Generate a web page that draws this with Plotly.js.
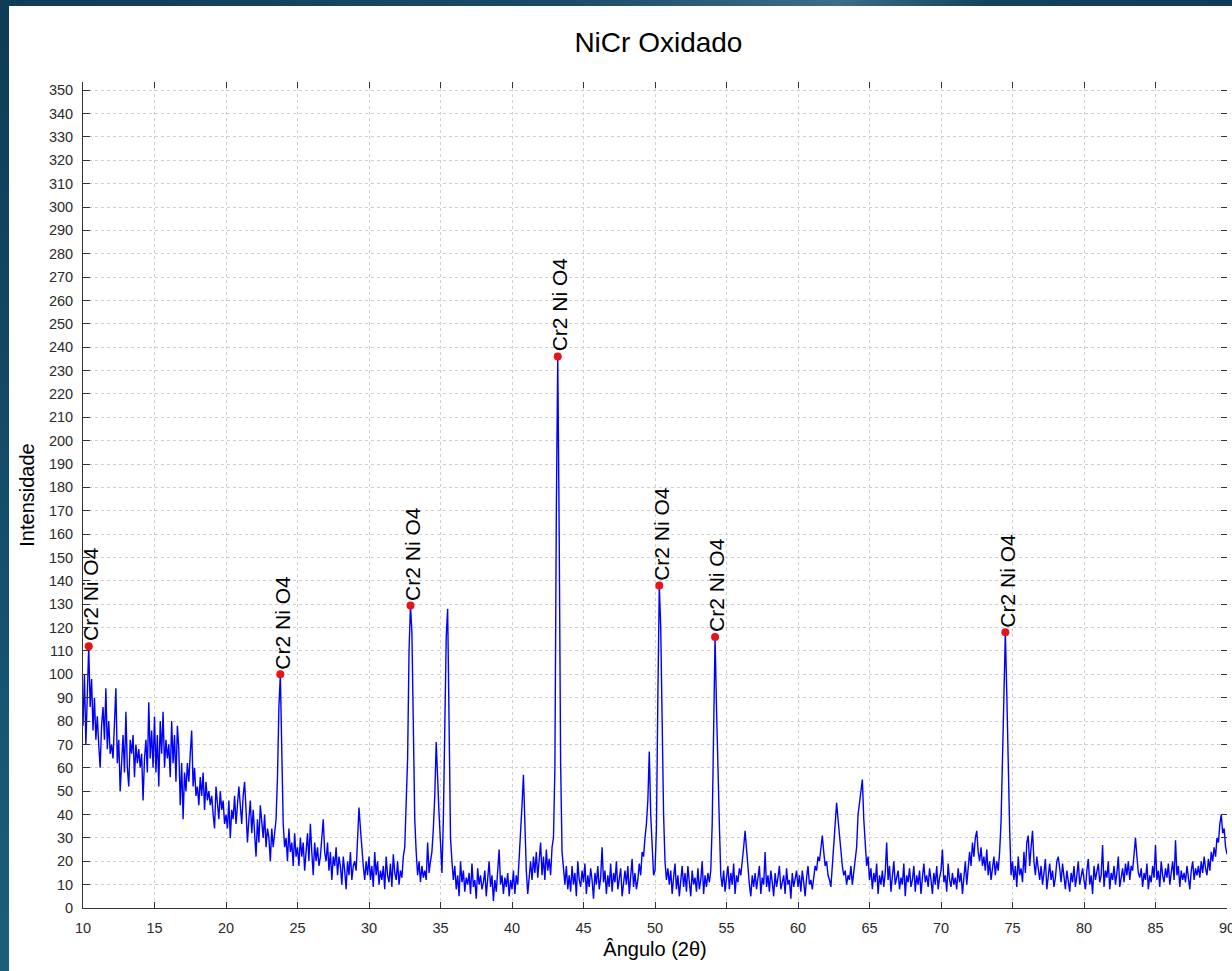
<!DOCTYPE html>
<html>
<head>
<meta charset="utf-8">
<script src="https://cdn.plot.ly/plotly-3.0.1.min.js"></script>
<style>
  html, body { margin: 0; padding: 0; width: 1232px; height: 971px; overflow: hidden; }
  body { background: linear-gradient(to bottom, #0e3b55 0%, #15506e 60%, #1c5d7d 100%); position: relative; }
  #topband { position: absolute; left: 0; top: 0; width: 1232px; height: 6px;
    background: linear-gradient(to right, #0f3c56 0%, #1a4b66 45%, #3d6d88 68%, #14435d 80%, #0f3c56 100%); }
  #chart { position: absolute; left: 9px; top: 6px; width: 1223px; height: 965px; background: #ffffff; }
</style>
</head>
<body>
<div id="topband"></div>
<div id="chart"></div>
<script>
// XRD scan: 2θ from 10.0° to 90.0° in 0.1° steps
const scanStart = 10.0;
const scanStep = 0.1;

// 10.0° – 29.9°
const intensity10to30 = [
  78,100,70,95,112,86,98,76,90,72,
  82,70,60,78,86,72,94,68,80,66,
  70,64,78,94,62,72,50,66,74,58,
  84,60,52,72,66,74,56,70,62,68,
  60,66,46,64,72,58,88,64,76,60,
  82,58,74,52,80,66,84,60,72,64,
  70,56,80,62,74,54,78,68,44,62,
  38,58,50,62,54,66,76,52,60,48,
  52,44,56,48,58,42,54,46,50,44,
  48,40,34,52,44,38,50,42,46,36,
  40,34,46,30,42,38,48,36,44,52,
  44,36,48,54,42,28,38,46,32,42,
  32,22,38,28,44,36,30,40,26,34,
  30,20,34,26,32,38,56,86,100,70,
  36,26,30,20,34,24,28,18,32,22,
  26,18,30,22,28,16,24,32,20,36,
  24,14,28,20,26,18,22,30,38,24,
  20,28,16,24,12,22,18,26,14,22,
  18,10,22,16,8,20,14,24,12,18,
  20,16,30,43,34,24,18,12,20,14
];

// 30.0° – 49.9°
const intensity30to50 = [
  22,12,18,9,24,14,20,10,16,12,
  18,8,22,14,11,19,9,23,15,12,
  20,10,16,13,22,26,46,64,110,129.5,
  118,66,38,24,14,20,11,18,13,16,
  12,28,15,20,24,34,48,71,52,40,
  28,15,38,70,116,128,76,30,20,12,
  18,8,14,5,20,11,16,7,13,10,
  15,6,19,9,12,4,17,10,14,8,
  11,16,5,13,20,9,14,3,12,7,
  16,25,10,14,6,13,9,15,5,12,
  8,16,6,14,10,20,30,44,57,36,
  16,6,14,20,12,22,15,24,13,19,
  28,14,22,12,25,16,21,14,26,30,
  60,170,236,160,62,24,16,10,18,8,
  14,7,18,10,15,5,20,12,9,16,
  11,19,6,14,9,17,12,4,15,10,
  18,8,13,26,11,16,6,14,9,19,
  7,15,11,20,8,13,17,5,12,16,
  10,18,6,14,21,9,15,8,12,19,
  14,24,22,30,36,46,67,40,24,14
];

// 50.0° – 69.9°
const intensity50to70 = [
  16,34,90,138,120,70,40,20,12,17,
  10,16,6,13,19,8,14,5,12,18,
  9,15,7,18,11,5,16,10,13,7,
  17,8,12,20,6,14,9,15,11,16,
  36,80,116,86,66,36,14,9,16,7,
  13,18,8,15,10,19,6,14,11,17,
  14,22,26,33,24,16,10,5,14,9,
  15,8,12,18,6,13,10,24,9,14,
  7,16,11,5,15,9,13,18,8,12,
  14,6,17,10,12,4,15,9,13,16,
  9,14,7,16,11,5,13,18,10,12,
  8,14,18,16,22,20,26,31,24,18,
  20,14,12,9,18,28,38,45,38,30,
  22,18,14,16,10,14,12,18,10,16,
  20,26,40,46,50,55,38,28,18,22,
  12,17,8,15,11,19,6,14,10,16,
  9,15,28,12,18,7,13,20,10,14,
  16,8,13,10,19,5,14,11,17,9,
  12,18,7,14,10,16,6,13,19,11,
  14,9,17,12,6,15,10,18,8,13
];

// 70.0° – 90.0°
const intensity70to90 = [
  16,25,11,14,7,19,12,9,15,10,
  13,8,17,11,15,6,14,20,10,16,
  24,18,28,22,30,33,24,20,26,18,
  22,16,25,14,20,12,18,22,14,20,
  16,24,37,68,102,118,92,56,34,14,
  20,12,18,9,22,14,17,11,24,15,
  28,31,18,26,33,20,14,22,16,12,
  18,10,15,21,8,14,19,12,16,9,
  13,20,22,17,11,19,14,8,16,12,
  7,15,11,18,9,14,20,10,13,17,
  12,8,16,21,10,14,6,18,12,15,
  19,11,14,27,9,16,13,20,8,15,
  12,18,10,15,22,9,14,17,11,19,
  14,20,12,18,16,24,30,22,15,13,
  17,9,15,12,19,8,14,11,18,13,
  27,12,16,9,20,14,11,17,13,19,
  10,15,20,12,29,14,18,9,16,12,
  15,11,18,13,8,16,20,12,17,14,
  18,13,20,15,22,17,14,21,16,24,
  20,26,22,30,28,36,40,32,34,26,
  23
];

// Identified peaks
const peakAngles = [10.4, 23.8, 32.9, 43.2, 50.3, 54.2, 74.5];
const peakIntensities = [112, 100, 129.5, 236, 138, 116, 118];
const peakLabels = ["Cr2 Ni O4", "Cr2 Ni O4", "Cr2 Ni O4", "Cr2 Ni O4", "Cr2 Ni O4", "Cr2 Ni O4", "Cr2 Ni O4"];

const intensity = [].concat(intensity10to30, intensity30to50, intensity50to70, intensity70to90);
const angle = intensity.map((_, i) => +(scanStart + i * scanStep).toFixed(1));

const xRange = [10, 90];
const yRange = [0, 353.5];

const fontFamily = "Liberation Sans, Arial, sans-serif";
const tickFont = { family: fontFamily, size: 14.5, color: "#2a2a2a" };

const traces = [
  {
    x: angle, y: intensity, type: "scatter", mode: "lines",
    line: { color: "#0000ff", width: 1.4 },
    hoverinfo: "x+y", showlegend: false
  },
  {
    x: peakAngles, y: peakIntensities, type: "scatter", mode: "markers",
    marker: { color: "#e8121b", size: 8 },
    showlegend: false
  },
  { x: [], y: [], xaxis: "x2", yaxis: "y2", type: "scatter", showlegend: false }
];

const annotations = peakAngles.map((a, i) => ({
  x: a, y: peakIntensities[i], xref: "x", yref: "y",
  text: peakLabels[i], showarrow: false, textangle: -90,
  xanchor: "center", yanchor: "bottom", xshift: 2, yshift: 3,
  font: { family: fontFamily, size: 21, color: "#000000" }
}));

const layout = {
  width: 1223, height: 965,
  paper_bgcolor: "#ffffff", plot_bgcolor: "#ffffff",
  margin: { l: 74, r: 5, t: 76, b: 63 },
  title: {
    text: "NiCr Oxidado",
    font: { family: fontFamily, size: 28, color: "#000000" },
    x: 0.503, xref: "paper", y: 1 - 36 / 965, yref: "container", yanchor: "middle"
  },
  xaxis: {
    range: xRange, tick0: 10, dtick: 5,
    ticks: "inside", ticklen: 6, tickcolor: "#333333", tickwidth: 1,
    showline: true, linecolor: "#333333", linewidth: 1,
    showgrid: true, gridcolor: "#cfcfcf", griddash: "dot", gridwidth: 1,
    zeroline: false, tickfont: tickFont, ticklabelstandoff: 7, ticklabeloverflow: "allow",
    title: { text: "Ângulo (2θ)", font: { family: fontFamily, size: 20, color: "#000000" }, standoff: 6 }
  },
  yaxis: {
    range: yRange, tick0: 0, dtick: 10,
    ticks: "inside", ticklen: 7, tickcolor: "#333333", tickwidth: 1,
    showline: true, linecolor: "#333333", linewidth: 1,
    showgrid: true, gridcolor: "#cfcfcf", griddash: "dot", gridwidth: 1,
    zeroline: false, tickfont: tickFont, ticklabelstandoff: 6,
    title: { text: "Intensidade", font: { family: fontFamily, size: 20, color: "#000000" }, standoff: 8 }
  },
  xaxis2: {
    overlaying: "x", side: "top", anchor: "y2", range: xRange, tick0: 10, dtick: 5,
    ticks: "inside", ticklen: 6, tickcolor: "#333333", showticklabels: false,
    showline: false, showgrid: false, zeroline: false
  },
  yaxis2: {
    overlaying: "y", side: "right", anchor: "x2", range: yRange, tick0: 0, dtick: 10,
    ticks: "inside", ticklen: 6, tickcolor: "#333333", showticklabels: false,
    showline: false, showgrid: false, zeroline: false
  },
  annotations: annotations
};

Plotly.newPlot("chart", traces, layout, { displayModeBar: false, staticPlot: true });
</script>
</body>
</html>
